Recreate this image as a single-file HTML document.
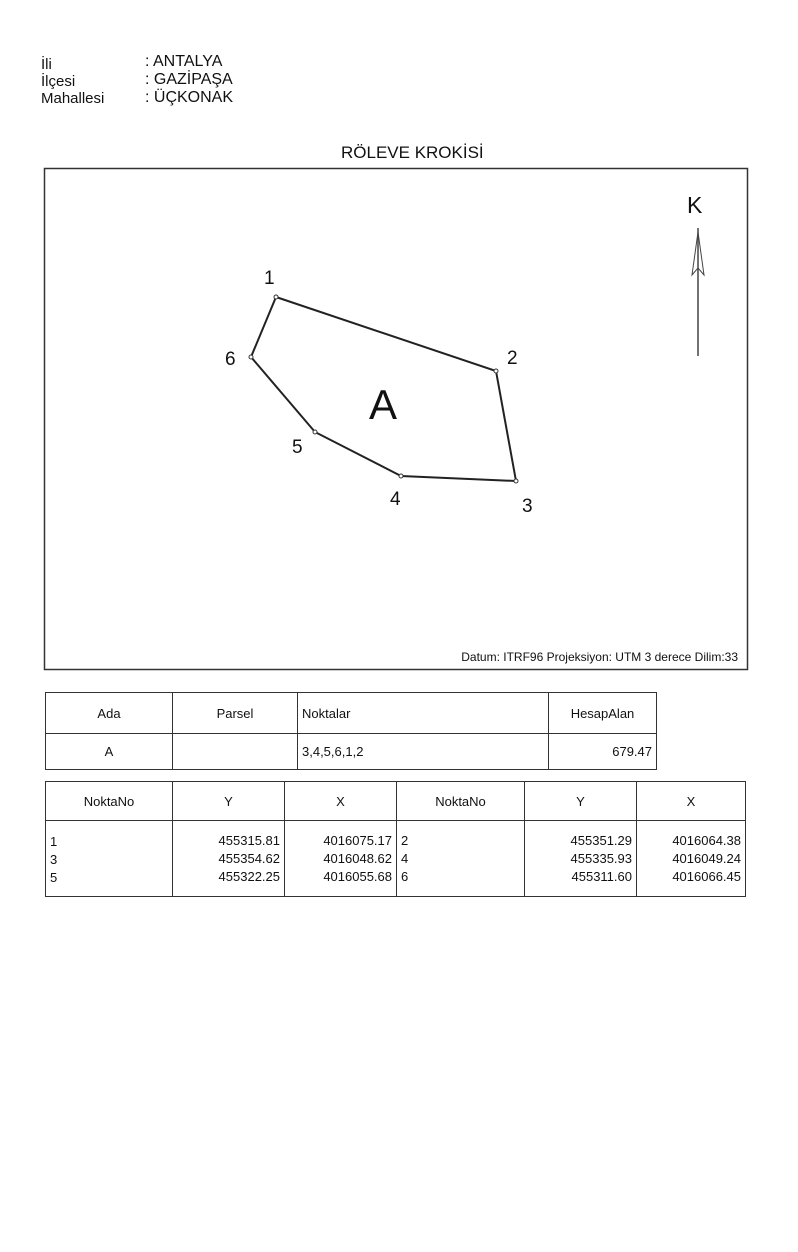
<!DOCTYPE html>
<html><head><meta charset="utf-8"><style>
body{margin:0;width:798px;height:1252px;background:#fff;position:relative;font-family:"Liberation Sans",sans-serif;color:#111;overflow:hidden}
.t{position:absolute;white-space:nowrap}
table{position:absolute;border-collapse:collapse;font-size:13px}
td{border:1.5px solid #333;padding:0 4px}
</style></head><body>
<div class="t" style="left:41px;top:56px;font-size:15px;line-height:17px">İli<br>İlçesi<br>Mahallesi</div>
<div class="t" style="left:145px;top:53px;font-size:16px;line-height:18px">: ANTALYA<br>: GAZİPAŞA<br>: ÜÇKONAK</div>
<div class="t" style="left:341px;top:143px;font-size:17px">RÖLEVE KROKİSİ</div>
<svg style="position:absolute;left:0;top:0" width="798" height="1252">
<rect x="44.5" y="168.5" width="703" height="501" fill="none" stroke="#333" stroke-width="1.5"/>
<polygon points="276,297 496,371 516,481 401,476 315,432 251,357" fill="none" stroke="#222" stroke-width="2"/>
<g fill="#fff" stroke="#333" stroke-width="1">
<circle cx="276" cy="297" r="2"/><circle cx="496" cy="371" r="2"/><circle cx="516" cy="481" r="2"/><circle cx="401" cy="476" r="2"/><circle cx="315" cy="432" r="2"/><circle cx="251" cy="357" r="2"/></g>
<line x1="698" y1="228" x2="698" y2="356" stroke="#444" stroke-width="1.5"/>
<polygon points="698,232 692,275 698,268 704,275" fill="none" stroke="#444" stroke-width="1"/>
<g font-family="Liberation Sans,sans-serif" font-size="19" fill="#111">
<text x="264" y="284">1</text><text x="507" y="364">2</text><text x="522" y="512">3</text>
<text x="390" y="505">4</text><text x="292" y="453">5</text><text x="225" y="365">6</text>
<text x="687" y="213" font-size="23">K</text>
<text x="369" y="419" font-size="42">A</text>
</g>
<text x="738" y="661" text-anchor="end" font-family="Liberation Sans,sans-serif" font-size="12" fill="#111">Datum: ITRF96 Projeksiyon: UTM 3 derece Dilim:33</text>
</svg>
<table style="left:45px;top:692px;width:612px">
<tr style="height:41px"><td style="width:118px;text-align:center">Ada</td><td style="width:116px;text-align:center">Parsel</td><td style="width:242px">Noktalar</td><td style="text-align:center">HesapAlan</td></tr>
<tr style="height:36px"><td style="text-align:center">A</td><td></td><td>3,4,5,6,1,2</td><td style="text-align:right">679.47</td></tr>
</table>
<table style="left:45px;top:781px;width:701px">
<tr style="height:39px;text-align:center"><td style="width:118px">NoktaNo</td><td style="width:103px">Y</td><td style="width:103px">X</td><td style="width:119px">NoktaNo</td><td style="width:103px">Y</td><td>X</td></tr>
<tr style="height:76px;line-height:18px"><td style="padding-top:10px;padding-bottom:8px">1<br>3<br>5</td><td style="text-align:right">455315.81<br>455354.62<br>455322.25</td><td style="text-align:right">4016075.17<br>4016048.62<br>4016055.68</td><td>2<br>4<br>6</td><td style="text-align:right">455351.29<br>455335.93<br>455311.60</td><td style="text-align:right">4016064.38<br>4016049.24<br>4016066.45</td></tr>
</table>
</body></html>
